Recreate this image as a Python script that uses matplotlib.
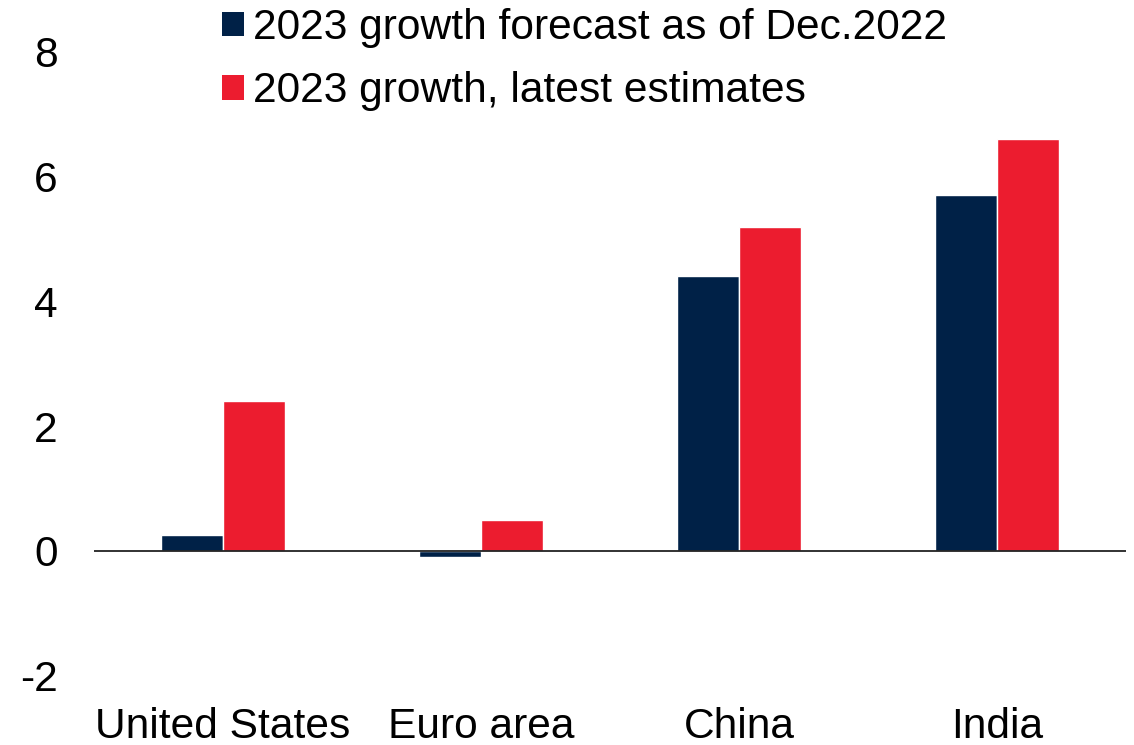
import matplotlib.pyplot as plt
import numpy as np
from matplotlib.patches import Patch

plt.rcParams['font.family'] = ['Liberation Sans', 'DejaVu Sans']
plt.rcParams['axes.unicode_minus'] = False

regions = ['United States', 'Euro area', 'China', 'India']
forecast_dec22 = [0.25, -0.1, 4.4, 5.7]
latest_est = [2.4, 0.5, 5.2, 6.6]
series_names = ['2023 growth forecast as of Dec.2022', '2023 growth, latest estimates']

navy = '#002147'
red = '#EC1C2F'
fs = 30.6

fig = plt.figure(figsize=(11.34, 7.45), dpi=100)
ax = fig.add_axes([0.0829, 0.0933, 0.910, 0.837])

x = np.arange(len(regions))
w = 0.24
ax.bar(x - w / 2, forecast_dec22, w, color=navy, edgecolor='white', linewidth=1)
ax.bar(x + w / 2, latest_est, w, color=red, edgecolor='white', linewidth=1)
ax.axhline(0, color='#222222', linewidth=1.3, zorder=3)

ax.set_xlim(-0.5, 3.5)
ax.set_ylim(-2, 8)
ax.set_yticks([-2, 0, 2, 4, 6, 8])
ax.set_xticks(x)
ax.set_xticklabels(regions)
ax.tick_params(axis='both', length=0, labelsize=fs)
ax.tick_params(axis='y', pad=26)
ax.tick_params(axis='x', pad=23)
for s in ax.spines.values():
    s.set_visible(False)

handles = [Patch(facecolor=navy, edgecolor='none'), Patch(facecolor=red, edgecolor='none')]
fig.legend(handles, series_names, loc='upper left',
           bbox_to_anchor=(222 / 1134, 1 - 8 / 745), frameon=False,
           fontsize=fs, handlelength=0.52, handleheight=0.52,
           handletextpad=0.22, labelspacing=0.55, borderpad=0, borderaxespad=0)

fig.savefig('out.png', dpi=100)
